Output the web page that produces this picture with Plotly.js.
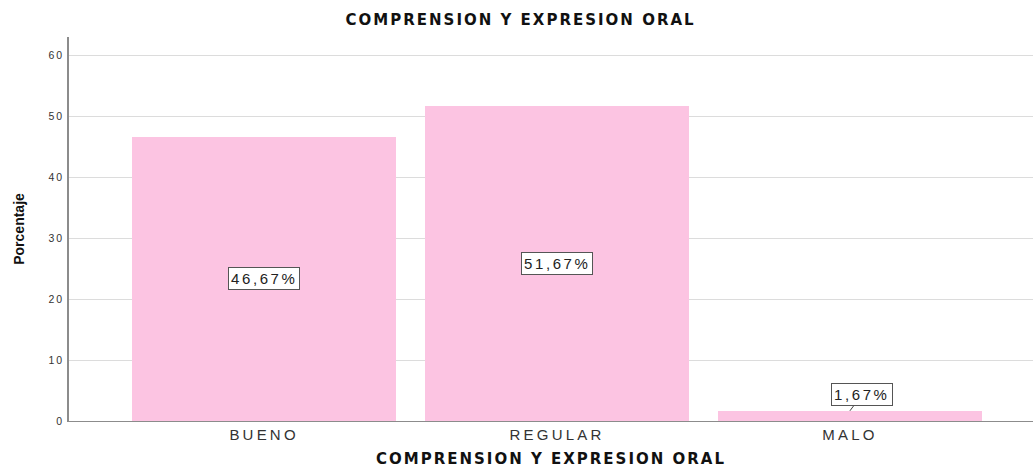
<!DOCTYPE html>
<html>
<head>
<meta charset="utf-8">
<script src="https://cdn.plot.ly/plotly-3.0.1.min.js"></script>
<style>
html,body{margin:0;padding:0;background:#fff;}
#chart{width:1035px;height:476px;}
.gtitle, .xtitle{letter-spacing:2px;}
.xtick text{letter-spacing:3.2px;}
.ytick text{letter-spacing:1.8px;}
.annotation-text{letter-spacing:2.6px;}
</style>
</head>
<body>
<div id="chart"></div>
<script>
const categories = ["BUENO", "REGULAR", "MALO"];
const percentages = [46.67, 51.67, 1.67];
const valueLabels = ["46,67%", "51,67%", "1,67%"];
const positions = [0, 1, 2];

const trace = {
  type: "bar",
  x: positions,
  y: percentages,
  width: 0.901,
  marker: {color: "#fcc4e2", line: {width: 0}},
  hoverinfo: "none"
};

const annotations = positions.map((p, i) => {
  const small = percentages[i] < 5;
  return {
    x: p,
    y: small ? percentages[i] : percentages[i] / 2,
    xref: "x", yref: "y",
    text: valueLabels[i],
    showarrow: small,
    ax: small ? 12 : 0,
    ay: small ? -16 : 0,
    arrowhead: 0,
    arrowwidth: 1,
    arrowcolor: "#444",
    standoff: 0,
    font: {family: "Liberation Sans, Arial, sans-serif", size: 15, color: "#222"},
    bgcolor: "#ffffff",
    bordercolor: "#555555",
    borderwidth: 1,
    borderpad: 2
  };
});

const layout = {
  width: 1035,
  height: 476,
  margin: {l: 69, r: 2, t: 37, b: 55},
  paper_bgcolor: "#ffffff",
  plot_bgcolor: "#ffffff",
  showlegend: false,
  title: {
    text: "<b>COMPRENSION Y EXPRESION ORAL</b>",
    font: {family: "DejaVu Sans, Liberation Sans, sans-serif", size: 15, color: "#111"},
    x: 0.503, xanchor: "center",
    y: 0.958, yanchor: "middle", yref: "container"
  },
  xaxis: {
    range: [-0.666, 2.625],
    tickvals: positions,
    ticktext: categories,
    ticks: "",
    showgrid: false,
    zeroline: false,
    showline: true,
    linecolor: "#8c8c8c",
    linewidth: 1,
    tickfont: {family: "Liberation Sans, Arial, sans-serif", size: 15, color: "#333"},
    title: {
      text: "<b>COMPRENSION Y EXPRESION ORAL</b>",
      font: {family: "DejaVu Sans, Liberation Sans, sans-serif", size: 15, color: "#111"},
      standoff: 11
    },
    automargin: false
  },
  yaxis: {
    range: [0, 63],
    tickvals: [0, 10, 20, 30, 40, 50, 60],
    ticks: "",
    ticklabelstandoff: 1,
    showgrid: true,
    gridcolor: "#dcdcdc",
    gridwidth: 1,
    zeroline: false,
    showline: true,
    linecolor: "#8c8c8c",
    linewidth: 2,
    tickfont: {family: "Liberation Sans, Arial, sans-serif", size: 10.5, color: "#333"},
    title: {
      text: "<b>Porcentaje</b>",
      font: {family: "Liberation Sans Narrow, Arial Narrow, sans-serif", size: 14, color: "#111"},
      standoff: 21
    },
    automargin: false
  },
  annotations: annotations,
  bargap: 0
};

Plotly.newPlot("chart", [trace], layout, {displayModeBar: false, staticPlot: true});
</script>
</body>
</html>
